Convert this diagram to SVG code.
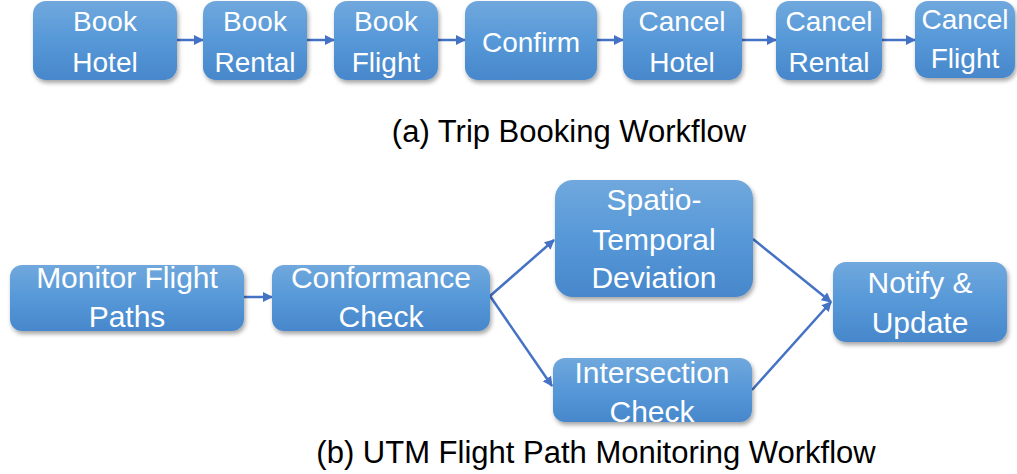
<svg xmlns="http://www.w3.org/2000/svg" width="1017" height="474" viewBox="0 0 1017 474">
<defs>
<linearGradient id="g" x1="0" y1="0" x2="0" y2="1">
<stop offset="0" stop-color="#70a8dd"/>
<stop offset="0.5" stop-color="#5698d8"/>
<stop offset="1" stop-color="#4787cb"/>
</linearGradient>
<filter id="sh" x="-10%" y="-10%" width="125%" height="135%">
<feDropShadow dx="1.5" dy="3" stdDeviation="2" flood-color="#000" flood-opacity="0.35"/>
</filter>
<marker id="ah" viewBox="0 0 10 10" refX="9" refY="5" markerWidth="4" markerHeight="4" orient="auto" markerUnits="strokeWidth">
<path d="M0,0 L10,5 L0,10 z" fill="#4472c4"/>
</marker>
<clipPath id="cI"><rect x="553" y="358" width="199" height="64" rx="12"/></clipPath>
</defs>
<style>
.box{fill:url(#g);filter:url(#sh);}
.lbl{font-family:"Liberation Sans",Arial,sans-serif;font-size:28px;fill:#fff;text-anchor:middle;}
.lb2{font-family:"Liberation Sans",Arial,sans-serif;font-size:30px;fill:#fff;text-anchor:middle;}
.cap{font-family:"Liberation Sans",Arial,sans-serif;font-size:31px;fill:#000;text-anchor:middle;}
.con{stroke:#4472c4;stroke-width:2.5;fill:none;marker-end:url(#ah);}
</style>
<g id="connectors">
<line class="con" x1="177" y1="40" x2="203" y2="40"/>
<line class="con" x1="307" y1="40" x2="334" y2="40"/>
<line class="con" x1="438" y1="40" x2="465" y2="40"/>
<line class="con" x1="597" y1="40" x2="623" y2="40"/>
<line class="con" x1="742" y1="40" x2="776" y2="40"/>
<line class="con" x1="882" y1="40" x2="915" y2="40"/>
<line class="con" x1="244" y1="297" x2="272" y2="297"/>
<line class="con" x1="490" y1="296" x2="554" y2="240"/>
<line class="con" x1="490" y1="296" x2="552" y2="386"/>
<line class="con" x1="753" y1="239" x2="831" y2="302"/>
<line class="con" x1="752" y1="390" x2="831" y2="302"/>
</g>
<g id="n-book-hotel"><rect class="box" x="33" y="1" width="144" height="79" rx="13"/>
<text class="lbl" x="105" y="31">Book</text><text class="lbl" x="105" y="72">Hotel</text></g>
<g id="n-book-rental"><rect class="box" x="203" y="1" width="104" height="79" rx="13"/>
<text class="lbl" x="255" y="31">Book</text><text class="lbl" x="255" y="72">Rental</text></g>
<g id="n-book-flight"><rect class="box" x="334" y="1" width="104" height="79" rx="13"/>
<text class="lbl" x="386" y="31">Book</text><text class="lbl" x="386" y="72">Flight</text></g>
<g id="n-confirm"><rect class="box" x="465" y="1" width="132" height="79" rx="13"/>
<text class="lbl" x="531" y="52">Confirm</text></g>
<g id="n-cancel-hotel"><rect class="box" x="623" y="1" width="119" height="79" rx="13"/>
<text class="lbl" x="682" y="31">Cancel</text><text class="lbl" x="682" y="72">Hotel</text></g>
<g id="n-cancel-rental"><rect class="box" x="776" y="1" width="106" height="79" rx="13"/>
<text class="lbl" x="829" y="31">Cancel</text><text class="lbl" x="829" y="72">Rental</text></g>
<g id="n-cancel-flight"><rect class="box" x="915" y="1" width="100" height="77" rx="13"/>
<text class="lbl" x="965" y="29">Cancel</text><text class="lbl" x="965" y="68">Flight</text></g>
<text class="cap" x="569" y="142">(a) Trip Booking Workflow</text>
<g id="n-monitor"><rect class="box" x="10" y="265" width="234" height="66" rx="12"/>
<text class="lb2" x="127" y="288">Monitor Flight</text><text class="lb2" x="127" y="327">Paths</text></g>
<g id="n-conformance"><rect class="box" x="272" y="265" width="218" height="66" rx="12"/>
<text class="lb2" x="381" y="288">Conformance</text><text class="lb2" x="381" y="327">Check</text></g>
<g id="n-spatio"><rect class="box" x="555" y="180" width="198" height="117" rx="18"/>
<text class="lb2" x="654" y="210">Spatio-</text><text class="lb2" x="654" y="250">Temporal</text><text class="lb2" x="654" y="288">Deviation</text></g>
<g id="n-intersection"><rect class="box" x="553" y="358" width="199" height="64" rx="12"/>
<g clip-path="url(#cI)"><text class="lb2" x="652" y="383">Intersection</text><text class="lb2" x="652" y="422">Check</text></g></g>
<g id="n-notify"><rect class="box" x="833" y="262" width="174" height="80" rx="13"/>
<text class="lb2" x="920" y="293">Notify &amp;</text><text class="lb2" x="920" y="333">Update</text></g>
<text class="cap" x="596" y="463">(b) UTM Flight Path Monitoring Workflow</text>
</svg>
